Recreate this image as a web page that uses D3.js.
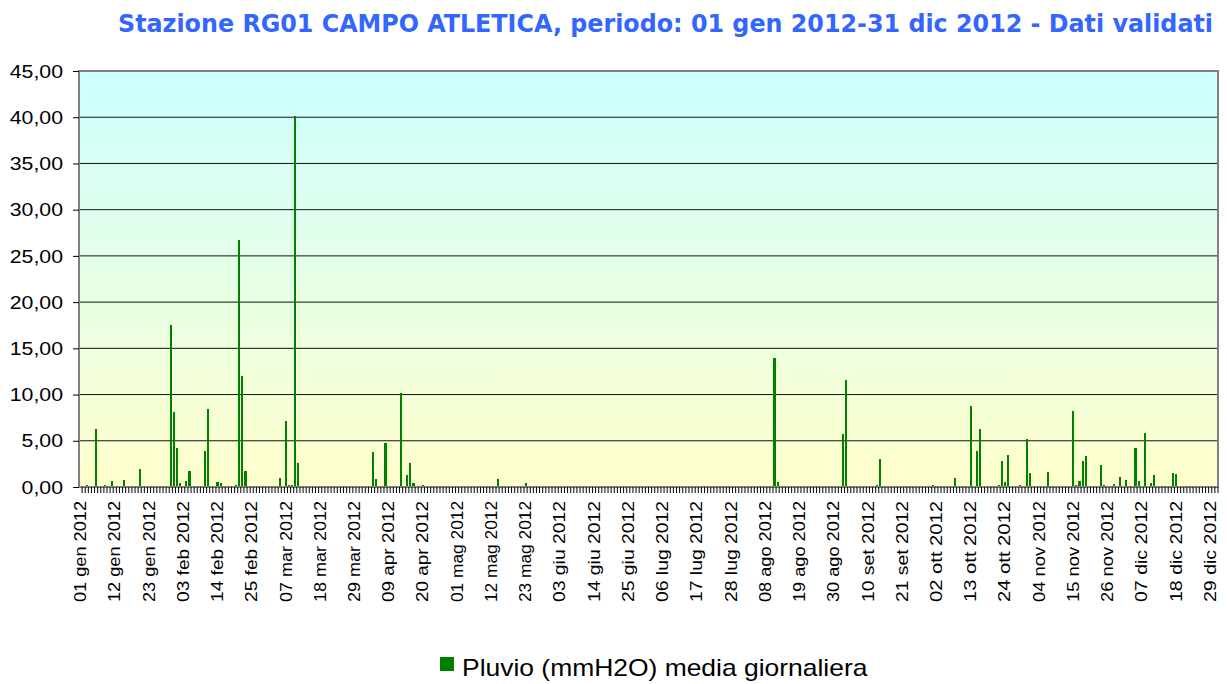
<!DOCTYPE html>
<html>
<head>
<meta charset="utf-8">
<script src="https://cdn.jsdelivr.net/npm/d3@7"></script>
<style>
  body { margin: 0; background: #fff; }
  svg { display: block; }
</style>
</head>
<body>
<div id="chart"></div>
<script>
// title and legend text
var chartTitle = "Stazione RG01 CAMPO ATLETICA, periodo: 01 gen 2012-31 dic 2012 - Dati validati";
var seriesName = "Pluvio (mmH2O) media giornaliera";

// day-of-year (0 = 01 gen 2012) with rain, and the daily value in mm
var rainDay = [1, 2, 4, 5, 6, 8, 10, 14, 19, 21,
  29, 30, 31, 32, 34, 35, 40, 41, 43, 44, 45, 46, 50, 51, 52, 53,
  64, 66, 67, 68, 69, 70, 74,
  94, 95, 98, 103, 104, 105, 106, 107, 110, 134, 143,
  204, 223, 224, 245, 246, 256, 257,
  274, 279, 280, 281, 286, 288, 289, 292, 293, 295, 296, 297, 298,
  302, 304, 305, 311, 317, 319, 320, 321, 322, 323, 325, 328, 329,
  332, 334, 335, 336, 339, 340, 342, 344, 345, 350, 351, 352, 361, 362, 365];
var rainMm = [0.15, 0.2, 0.1, 6.3, 0.1, 0.2, 0.65, 0.75, 1.95, 0.1,
  17.5, 8.1, 4.2, 0.4, 0.7, 1.7, 3.9, 8.4, 0.1, 0.55, 0.45, 0.1, 0.2, 26.7, 12.0, 1.7,
  1.0, 7.1, 0.2, 0.2, 40.1, 2.6, 0.1,
  3.8, 0.87, 4.76, 10.2, 0.1, 1.3, 2.6, 0.43, 0.2, 0.87, 0.43,
  0.1, 13.95, 0.55, 5.7, 11.6, 0.2, 3.0,
  0.2, 0.1, 0.1, 1.0, 8.76, 3.9, 6.27, 0.1, 0.1, 0.2, 2.8, 0.55, 3.46,
  0.2, 5.2, 1.5, 1.6, 0.1, 8.2, 0.2, 0.65, 2.8, 3.35, 0.1, 2.38, 0.2,
  0.32, 1.08, 0.1, 0.76, 4.2, 0.65, 5.84, 0.43, 1.3, 0.1, 1.5, 1.4, 0.1, 0.1, 0.1];

var yTicks = [0, 5, 10, 15, 20, 25, 30, 35, 40, 45];
var xTickLabels = ["01 gen 2012", "12 gen 2012", "23 gen 2012", "03 feb 2012", "14 feb 2012",
  "25 feb 2012", "07 mar 2012", "18 mar 2012", "29 mar 2012", "09 apr 2012", "20 apr 2012",
  "01 mag 2012", "12 mag 2012", "23 mag 2012", "03 giu 2012", "14 giu 2012", "25 giu 2012",
  "06 lug 2012", "17 lug 2012", "28 lug 2012", "08 ago 2012", "19 ago 2012", "30 ago 2012",
  "10 set 2012", "21 set 2012", "02 ott 2012", "13 ott 2012", "24 ott 2012", "04 nov 2012",
  "15 nov 2012", "26 nov 2012", "07 dic 2012", "18 dic 2012", "29 dic 2012"];

var W = 1227, H = 684;
var margin = {top: 71, right: 9, bottom: 197, left: 79},
    width = W - margin.left - margin.right,
    height = H - margin.top - margin.bottom;

var days = d3.range(366);
var values = days.map(function(d) { return 0; });
rainDay.forEach(function(d, i) { values[d] = rainMm[i]; });
var data = days.map(function(d) { return {day: d, value: values[d]}; });

var svg = d3.select("#chart").append("svg")
    .attr("width", W)
    .attr("height", H);

var defs = svg.append("defs");
var grad = defs.append("linearGradient")
    .attr("id", "bg")
    .attr("x1", 0).attr("y1", 0).attr("x2", 0).attr("y2", 1);
grad.append("stop").attr("offset", "0%").attr("stop-color", "#ccffff");
grad.append("stop").attr("offset", "100%").attr("stop-color", "#ffffcc");

// title
svg.append("text")
    .attr("x", 1213)
    .attr("y", 32)
    .attr("text-anchor", "end")
    .attr("font-family", "DejaVu Sans Condensed, DejaVu Sans")
    .attr("font-weight", "bold")
    .attr("font-size", 25)
    .attr("fill", "#3366ff")
    .attr("textLength", 1095)
    .attr("lengthAdjust", "spacingAndGlyphs")
    .text(chartTitle);

var g = svg.append("g")
    .attr("transform", "translate(" + margin.left + "," + margin.top + ")");

var x = d3.scaleBand()
    .domain(days)
    .range([0, width])
    .paddingInner(0.33)
    .paddingOuter(0.165);

var y = d3.scaleLinear()
    .domain([0, 45])
    .range([height, 0]);

g.append("rect")
    .attr("width", width)
    .attr("height", height)
    .attr("fill", "url(#bg)");

// gridlines
g.append("g")
  .selectAll("line")
  .data(yTicks.filter(function(d) { return d > 0 && d < 45; }))
  .enter().append("line")
    .attr("x1", 0)
    .attr("x2", width)
    .attr("y1", function(d) { return y(d); })
    .attr("y2", function(d) { return y(d); })
    .attr("stroke", "#111")
    .attr("stroke-width", 1);

// bars
g.append("g")
  .selectAll("rect")
  .data(data.filter(function(d) { return d.value > 0; }))
  .enter().append("rect")
    .attr("x", function(d) { return x(d.day); })
    .attr("y", function(d) { return y(d.value); })
    .attr("width", x.bandwidth())
    .attr("height", function(d) { return height - y(d.value); })
    .attr("fill", "#008000")
    .attr("shape-rendering", "crispEdges");

// frame
g.append("rect")
    .attr("width", width)
    .attr("height", height)
    .attr("fill", "none")
    .attr("stroke", "#808080")
    .attr("stroke-width", 2);

// y axis
var yAxis = g.append("g")
    .call(d3.axisLeft(y).tickValues(yTicks).tickSize(6).tickPadding(0).tickFormat(function(d) { return ""; }));
yAxis.select(".domain").remove();
yAxis.selectAll(".tick line").attr("stroke", "#000");

g.append("g")
  .selectAll("text")
  .data(yTicks)
  .enter().append("text")
    .attr("transform", function(d) { return "translate(-16," + y(d) + ") scale(1.15,1)"; })
    .attr("dy", "0.36em")
    .attr("text-anchor", "end")
    .attr("font-family", "Liberation Sans, Arial, sans-serif")
    .attr("font-size", 18.5)
    .attr("fill", "#000")
    .text(function(d) { return d3.format(".2f")(d).replace(".", ","); });

// x axis: a tick every day, a label every 11 days
var step = x.step();
var xAxis = g.append("g")
    .attr("transform", "translate(0," + height + ")")
    .call(d3.axisBottom(x).tickSize(6).tickFormat(function(d) { return ""; }));
xAxis.select(".domain").remove();
xAxis.selectAll(".tick line")
    .attr("stroke", "#000")
    .attr("transform", "translate(" + (step / 2) + ",0)");

g.append("g")
  .selectAll("text")
  .data(xTickLabels)
  .enter().append("text")
    .attr("transform", function(d, i) {
      return "translate(" + (x(i * 11) + x.bandwidth() / 2) + "," + (height + 14) + ") rotate(-90)";
    })
    .attr("dy", "0.35em")
    .attr("text-anchor", "end")
    .attr("font-family", "Liberation Sans, Arial, sans-serif")
    .attr("font-size", 16)
    .attr("textLength", 101)
    .attr("lengthAdjust", "spacingAndGlyphs")
    .attr("fill", "#000")
    .text(function(d) { return d; });

// legend
var legend = svg.append("g")
    .attr("transform", "translate(440,657)");
legend.append("rect")
    .attr("width", 14)
    .attr("height", 14)
    .attr("fill", "#008000");
legend.append("text")
    .attr("transform", "translate(22,19) scale(1.15,1)")
    .attr("font-family", "Liberation Sans, Arial, sans-serif")
    .attr("font-size", 23)
    .attr("fill", "#000")
    .text(seriesName);
</script>
</body>
</html>
